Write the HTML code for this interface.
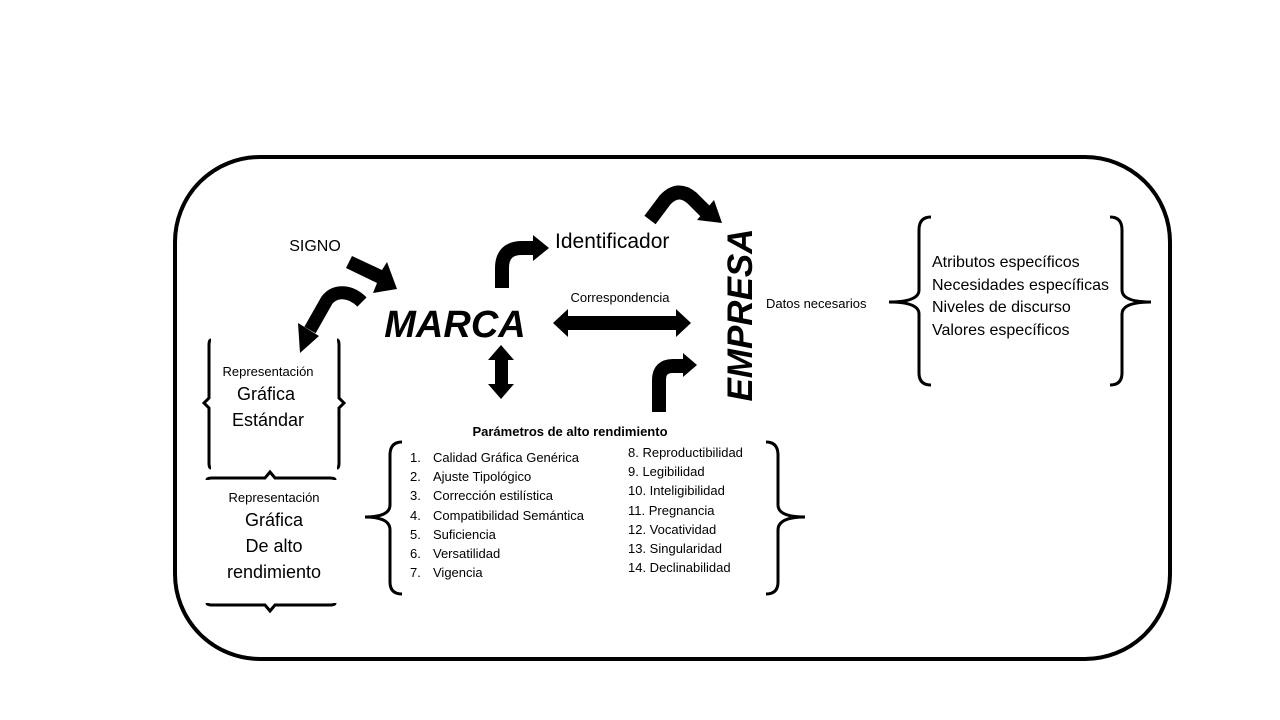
<!DOCTYPE html>
<html><head><meta charset="utf-8"><style>
html,body{margin:0;padding:0;background:#fff;}
svg{display:block;}
text{font-family:"Liberation Sans","DejaVu Sans",sans-serif;fill:#000;}
</style></head><body>
<svg width="1280" height="720" viewBox="0 0 1280 720" xmlns="http://www.w3.org/2000/svg">
<rect x="175" y="157" width="995" height="502" rx="85" ry="85" fill="none" stroke="#000" stroke-width="4"/>

<polygon points="346,268 352,256 382,270 387,262 397,289 373,293 377,283" fill="#000"/>
<path d="M362,302 C350,290 335,290 327,300 L310,330" fill="none" stroke="#000" stroke-width="13"/>
<polygon points="298,323 319,336 300,353" fill="#000"/>
<path d="M502,288 L502,268 Q502,248 522,248 L535,248" fill="none" stroke="#000" stroke-width="14"/>
<polygon points="533,235 549,248 533,261" fill="#000"/>
<path d="M650,220 L665,200 Q678,186 692,198 L708,214" fill="none" stroke="#000" stroke-width="14"/>
<polygon points="714,200 722,223 697,220" fill="#000"/>
<rect x="566" y="316" width="112" height="14" fill="#000"/>
<polygon points="568,309 553,323 568,337" fill="#000"/>
<polygon points="676,309 691,323 676,337" fill="#000"/>
<rect x="495" y="358" width="13" height="28" fill="#000"/>
<polygon points="488,360 501,345 514,360" fill="#000"/>
<polygon points="488,384 501,399 514,384" fill="#000"/>
<path d="M659,412 L659,380 Q659,366 673,366 L684,366" fill="none" stroke="#000" stroke-width="14"/>
<polygon points="683,353 697,365 683,377" fill="#000"/>

<g fill="none" stroke="#000" stroke-width="3">
<path d="M211,340 Q209,340 209,345 L209,398 L204,403 L209,408 L209,463 Q209,468 211,468"/>
<path d="M337,340 Q339,340 339,345 L339,398 L344,403 L339,408 L339,463 Q339,468 337,468"/>
<path d="M207,480 Q207,478 212,478 L265,478 L270,472 L275,478 L330,478 Q335,478 335,480"/>
<path d="M207,603 Q207,605 212,605 L265,605 L270,611 L275,605 L330,605 Q335,605 335,603"/>
<path d="M402,442 Q390,442 390,455 L390,505 Q390,517 365,517 Q390,517 390,530 L390,582 Q390,594 402,594"/>
<path d="M766,442 Q778,442 778,455 L778,505 Q778,517 805,517 Q778,517 778,530 L778,582 Q778,594 766,594"/>
<path d="M931,217 Q919,217 919,230 L919,290 Q919,302 889,302 Q919,302 919,314 L919,373 Q919,385 931,385"/>
<path d="M1110,217 Q1122,217 1122,230 L1122,290 Q1122,302 1151,302 Q1122,302 1122,314 L1122,373 Q1122,385 1110,385"/>
</g>

<text x="315" y="251" font-size="16" text-anchor="middle">SIGNO</text>
<text x="455" y="337" font-size="38" font-weight="bold" font-style="italic" text-anchor="middle">MARCA</text>
<text x="555" y="248" font-size="21">Identificador</text>
<text x="620" y="302" font-size="13" text-anchor="middle">Correspondencia</text>
<text transform="translate(752,315) rotate(-90)" font-size="35" font-weight="bold" font-style="italic" text-anchor="middle">EMPRESA</text>
<text x="766" y="308" font-size="13">Datos necesarios</text>
<g font-size="16">
<text x="932" y="267">Atributos específicos</text>
<text x="932" y="290">Necesidades específicas</text>
<text x="932" y="312">Niveles de discurso</text>
<text x="932" y="335">Valores específicos</text>
</g>
<text x="268" y="376" font-size="13" text-anchor="middle">Representación</text>
<text x="266" y="400" font-size="18" text-anchor="middle">Gráfica</text>
<text x="268" y="426" font-size="18" text-anchor="middle">Estándar</text>
<text x="274" y="502" font-size="13" text-anchor="middle">Representación</text>
<text x="274" y="526" font-size="18" text-anchor="middle">Gráfica</text>
<text x="274" y="552" font-size="18" text-anchor="middle">De alto</text>
<text x="274" y="578" font-size="18" text-anchor="middle">rendimiento</text>
<text x="570" y="436" font-size="13" font-weight="bold" text-anchor="middle">Parámetros de alto rendimiento</text>
<g font-size="13">
<text x="410" y="462">1.</text><text x="433" y="462">Calidad Gráfica Genérica</text>
<text x="410" y="481">2.</text><text x="433" y="481">Ajuste Tipológico</text>
<text x="410" y="500">3.</text><text x="433" y="500">Corrección estilística</text>
<text x="410" y="520">4.</text><text x="433" y="520">Compatibilidad Semántica</text>
<text x="410" y="539">5.</text><text x="433" y="539">Suficiencia</text>
<text x="410" y="558">6.</text><text x="433" y="558">Versatilidad</text>
<text x="410" y="577">7.</text><text x="433" y="577">Vigencia</text>
<text x="628" y="457">8. Reproductibilidad</text>
<text x="628" y="476">9. Legibilidad</text>
<text x="628" y="495">10. Inteligibilidad</text>
<text x="628" y="515">11. Pregnancia</text>
<text x="628" y="534">12. Vocatividad</text>
<text x="628" y="553">13. Singularidad</text>
<text x="628" y="572">14. Declinabilidad</text>
</g>
</svg>
</body></html>
